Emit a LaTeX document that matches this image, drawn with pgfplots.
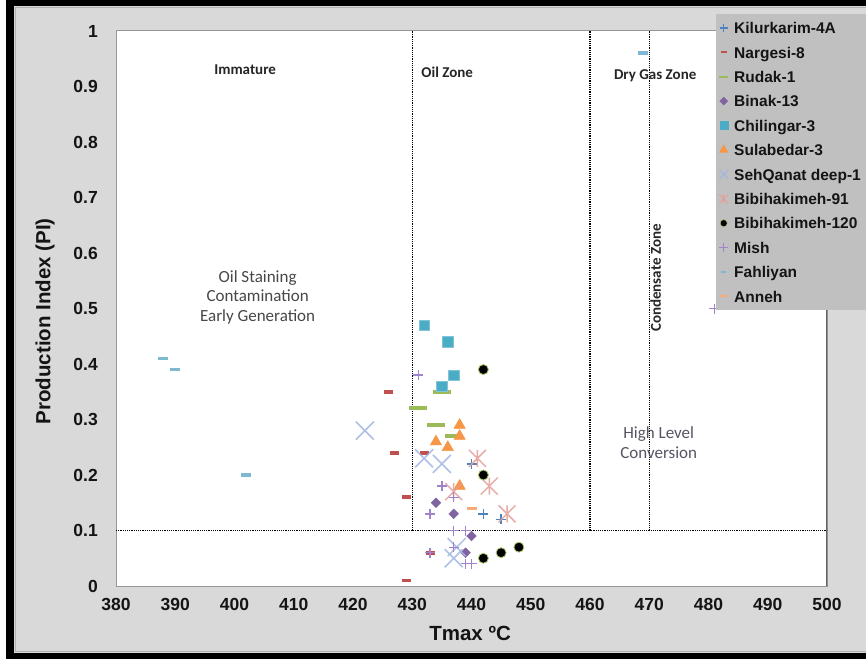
\documentclass[border=0pt]{standalone}
\usepackage{fontspec}
\setmainfont{Liberation Sans}
\newfontfamily\calfont{Carlito}
\usepackage{pgfplots}
\pgfplotsset{compat=1.18}

% frame and text colours
\definecolor{framegray}{RGB}{217,217,217}
\definecolor{legendgray}{RGB}{192,192,192}
\definecolor{axisgray}{RGB}{150,150,150}
\definecolor{axisdark}{RGB}{100,100,100}
\definecolor{ticktext}{RGB}{20,20,20}
\definecolor{annot}{RGB}{38,38,38}
\definecolor{hlc}{RGB}{85,85,100}
% series colours
\definecolor{kilur}{RGB}{79,129,189}
\definecolor{narg}{RGB}{192,80,77}
\definecolor{rudak}{RGB}{155,187,89}
\definecolor{binak}{RGB}{128,100,162}
\definecolor{chil}{RGB}{75,172,198}
\definecolor{sula}{RGB}{247,150,70}
\definecolor{sehq}{RGB}{160,182,226}
\definecolor{bibia}{RGB}{228,158,152}
\definecolor{bibirim}{RGB}{170,200,110}
\definecolor{mish}{RGB}{160,130,205}
\definecolor{fahl}{RGB}{125,185,210}
\definecolor{anneh}{RGB}{250,170,120}

% X inside a square box and X with a vertical bar
\pgfdeclareplotmark{boxx}{%
  \pgfpathmoveto{\pgfqpoint{-\pgfplotmarksize}{-\pgfplotmarksize}}%
  \pgfpathlineto{\pgfqpoint{\pgfplotmarksize}{\pgfplotmarksize}}%
  \pgfpathmoveto{\pgfqpoint{-\pgfplotmarksize}{\pgfplotmarksize}}%
  \pgfpathlineto{\pgfqpoint{\pgfplotmarksize}{-\pgfplotmarksize}}%
  \pgfusepathqstroke}
\pgfdeclareplotmark{xstar}{%
  \pgfpathmoveto{\pgfqpoint{0pt}{-\pgfplotmarksize}}%
  \pgfpathlineto{\pgfqpoint{0pt}{\pgfplotmarksize}}%
  \pgfpathmoveto{\pgfqpoint{-\pgfplotmarksize}{-\pgfplotmarksize}}%
  \pgfpathlineto{\pgfqpoint{\pgfplotmarksize}{\pgfplotmarksize}}%
  \pgfpathmoveto{\pgfqpoint{-\pgfplotmarksize}{\pgfplotmarksize}}%
  \pgfpathlineto{\pgfqpoint{\pgfplotmarksize}{-\pgfplotmarksize}}%
  \pgfusepathqstroke}

\begin{document}
\begin{tikzpicture}[x=1pt,y=1pt]
\path[use as bounding box] (0pt,0pt) rectangle (866pt,659pt);
\clip (0pt,0pt) rectangle (866pt,659pt);
\fill[white] (0pt,0pt) rectangle (866pt,659pt);
\fill[black] (6pt,0pt) rectangle (900pt,659pt);
\fill[framegray] (14pt,6pt) rectangle (900pt,653pt);
\draw[gray!60, line width=0.8pt] (15.5pt,7.5pt) rectangle (920pt,651.5pt);

\begin{axis}[
  at={(116pt,73pt)}, anchor=south west,
  scale only axis, width=711pt, height=555pt,
  xmin=380, xmax=500, ymin=0, ymax=1,
  xtick={380,390,400,410,420,430,440,450,460,470,480,490,500},
  ytick={0,0.1,0.2,0.3,0.4,0.5,0.6,0.7,0.8,0.9,1},
  major tick length=0pt,
  axis line style={draw=axisgray, line width=1pt},
  axis background/.style={fill=white},
  /pgf/number format/assume math mode=true,
  tick label style={font=\bfseries\fontsize{17.5}{20}\selectfont, text=ticktext},
  xticklabel style={anchor=north, inner sep=0pt, yshift=-12.5pt},
  yticklabel style={anchor=east, inner sep=0pt, xshift=-18pt},
  xlabel={Tmax ºC},
  ylabel={Production Index (PI)},
  label style={font=\bfseries\fontsize{20.5}{24}\selectfont, text=ticktext},
  xlabel style={at={(axis description cs:0.498,-0.0847)}, anchor=center},
  ylabel style={at={(axis description cs:-0.0999,0.477)}, anchor=center},
  legend image code/.code={\draw[mark repeat=2,mark phase=2,#1] plot coordinates {(0pt,0pt) (8pt,0pt) (16pt,0pt)};},
  legend cell align=left,
  legend style={at={(axis description cs:0.8439,1.0306)}, anchor=north west,
    fill=legendgray, draw=none, text=ticktext,
    font=\bfseries\fontsize{15.5}{18}\selectfont,
    inner xsep=3pt, inner ysep=8pt, row sep=12.9pt, column sep=6pt,
    nodes={inner sep=0pt, text height=11.5pt, text depth=0pt}},
]

% zone boundaries
\draw[black, line width=1.1pt, dash pattern=on 1.2pt off 1pt] (axis cs:430,0.1) -- (axis cs:430,1);
\draw[black, line width=1.1pt, dash pattern=on 1.2pt off 1pt] (axis cs:460,0.1) -- (axis cs:460,1);
\draw[black, line width=1.1pt, dash pattern=on 1.2pt off 1pt] (axis cs:470,0.1) -- (axis cs:470,1);
\draw[black, line width=1.1pt, dash pattern=on 1.2pt off 1pt] (axis cs:380,0.1) -- (axis cs:500,0.1);
\draw[axisdark, line width=2pt] (axis cs:500,0) -- (axis cs:500,1);

% zone names
\node[font=\calfont\bfseries\fontsize{15}{18}\selectfont, text=annot] at (axis cs:401.8,0.93) {Immature};
\node[font=\calfont\bfseries\fontsize{15}{18}\selectfont, text=annot] at (axis cs:435.9,0.926) {Oil Zone};
\node[font=\calfont\bfseries\fontsize{15}{18}\selectfont, text=annot] at (axis cs:471.0,0.919) {Dry Gas Zone};
\node[rotate=90, font=\calfont\bfseries\fontsize{15}{18}\selectfont, text=annot] at (axis cs:471.1,0.555) {Condensate Zone};
\node[align=center, font=\calfont\fontsize{17}{19.8}\selectfont, text=annot!85] at (axis cs:403.9,0.52) {Oil Staining\\Contamination\\Early Generation};
\node[align=center, font=\calfont\fontsize{17}{20}\selectfont, text=hlc] at (axis cs:471.6,0.2576) {High Level\\Conversion};

% wells
\addplot[forget plot, only marks, mark=+, mark size=5pt, color=kilur, line width=1.3pt]
  coordinates {(440,0.22) (442,0.13) (445,0.12)};
\addplot[forget plot, only marks, mark=-, mark size=4.5pt, color=narg, line width=3.8pt]
  coordinates {(426,0.35) (427,0.24) (432,0.24) (429,0.16) (433,0.06) (429,0.01)};
\addplot[forget plot, only marks, mark=-, mark size=9pt, color=rudak, line width=4pt]
  coordinates {(435,0.35) (431,0.32) (434,0.29) (437,0.27)};
\addplot[forget plot, only marks, mark=square*, mark size=3.4pt, mark options={rotate=45}, color=binak, line width=0.5pt]
  coordinates {(434,0.15) (437,0.13) (440,0.09) (439,0.06)};
\addplot[forget plot, only marks, mark=square*, mark size=5.2pt, color=chil, mark options={draw=chil!70!white, fill=chil}, line width=0.6pt]
  coordinates {(432,0.47) (436,0.44) (437,0.38) (435,0.36)};
\addplot[forget plot, only marks, mark=triangle*, mark size=6.5pt, color=sula, line width=0.5pt]
  coordinates {(438,0.29) (438,0.27) (434,0.26) (436,0.25) (438,0.18)};
\addplot[forget plot, only marks, mark=boxx, mark size=9pt, color=sehq, line width=1.5pt, opacity=0.85]
  coordinates {(422,0.28) (432,0.23) (435,0.22) (437.5,0.07) (437,0.05)};
\addplot[forget plot, only marks, mark=xstar, mark size=8.5pt, color=bibia, line width=1.5pt, opacity=0.85]
  coordinates {(441,0.23) (437,0.17) (443,0.18) (446,0.13)};
\addplot[forget plot, only marks, mark=*, mark size=5pt, color=black, mark options={draw=bibirim, fill=black}, line width=0.8pt]
  coordinates {(442,0.39) (442,0.20) (442,0.05) (445,0.06) (448,0.07)};
\addplot[forget plot, only marks, mark=+, mark size=5pt, color=mish, line width=1.3pt]
  coordinates {(431,0.38) (435,0.18) (437,0.16) (433,0.13) (437,0.10) (439,0.10)
               (437,0.07) (433,0.06) (439,0.04) (440,0.04) (481,0.50)};
\addplot[forget plot, only marks, mark=-, mark size=5pt, color=fahl, line width=3.8pt]
  coordinates {(388,0.41) (390,0.39) (402,0.20) (469,0.96)};
\addplot[forget plot, only marks, mark=-, mark size=5pt, color=anneh, line width=3pt]
  coordinates {(440,0.14)};

% legend
\addlegendimage{only marks, mark=+, mark size=4pt, color=kilur, line width=1.1pt}
\addlegendentry{Kilurkarim-4A}
\addlegendimage{only marks, mark=-, mark size=2.8pt, color=narg, line width=2pt}
\addlegendentry{Nargesi-8}
\addlegendimage{only marks, mark=-, mark size=4.5pt, color=rudak, line width=2pt}
\addlegendentry{Rudak-1}
\addlegendimage{only marks, mark=square*, mark size=2.8pt, mark options={rotate=45}, color=binak}
\addlegendentry{Binak-13}
\addlegendimage{only marks, mark=square*, mark size=4pt, color=chil}
\addlegendentry{Chilingar-3}
\addlegendimage{only marks, mark=triangle*, mark size=5pt, color=sula}
\addlegendentry{Sulabedar-3}
\addlegendimage{only marks, mark=boxx, mark size=4.5pt, color=sehq, line width=1pt}
\addlegendentry{SehQanat deep-1\hspace*{12pt}}
\addlegendimage{only marks, mark=xstar, mark size=4.5pt, color=bibia, line width=1pt}
\addlegendentry{Bibihakimeh-91}
\addlegendimage{only marks, mark=*, mark size=3.5pt, color=black, mark options={draw=bibirim, fill=black}}
\addlegendentry{Bibihakimeh-120}
\addlegendimage{only marks, mark=+, mark size=4.5pt, color=mish, line width=1.1pt}
\addlegendentry{Mish}
\addlegendimage{only marks, mark=-, mark size=2.5pt, color=fahl, line width=2pt}
\addlegendentry{Fahliyan}
\addlegendimage{only marks, mark=-, mark size=4pt, color=anneh, line width=2pt}
\addlegendentry{Anneh}
\end{axis}
\end{tikzpicture}
\end{document}
